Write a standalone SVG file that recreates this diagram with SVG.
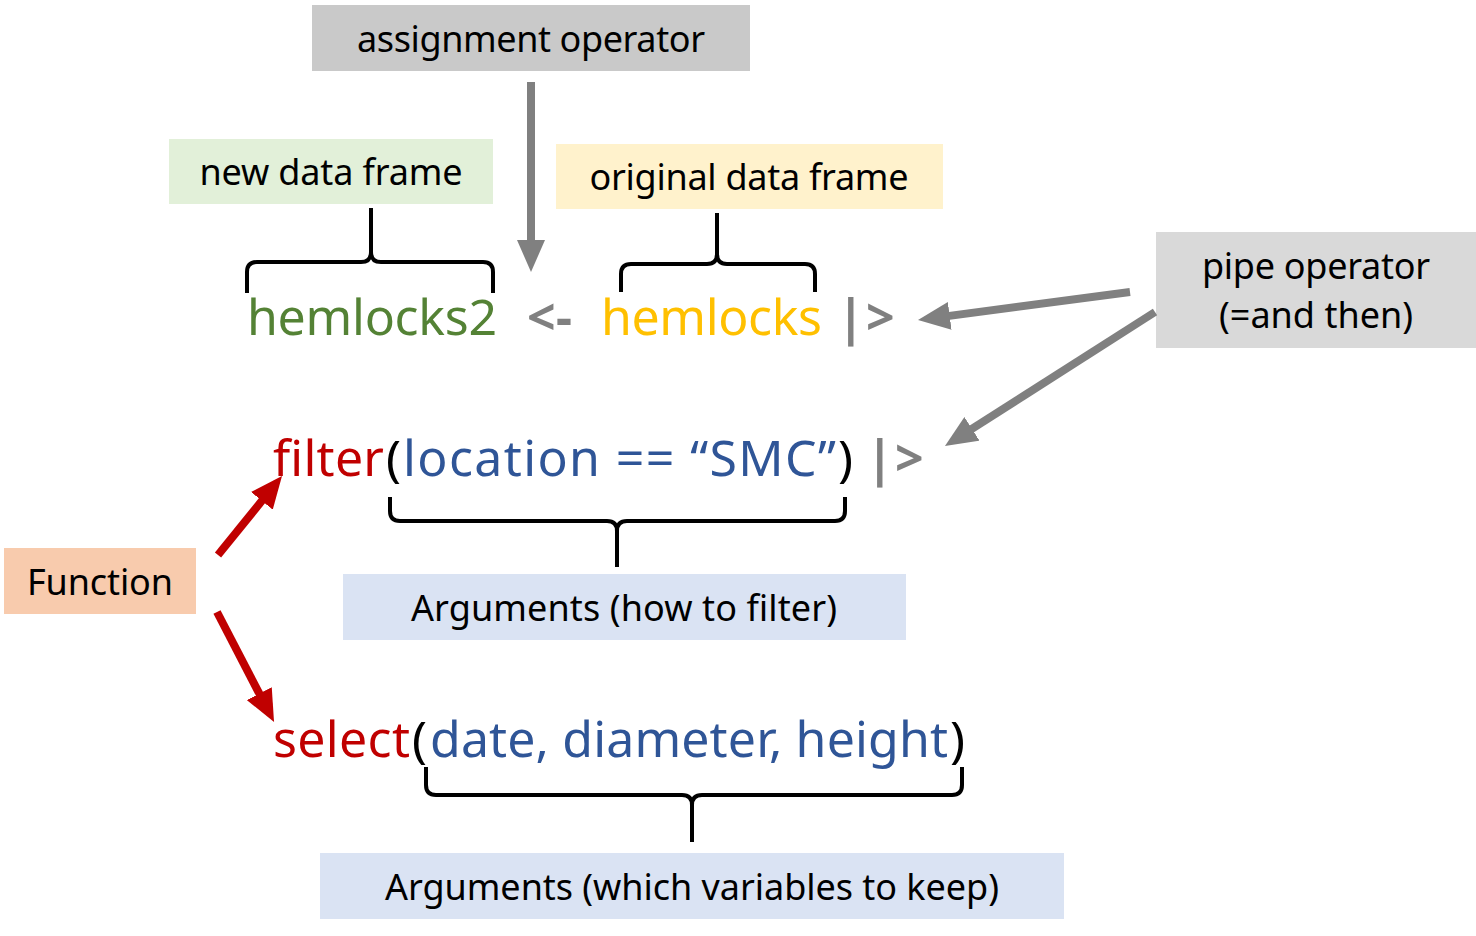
<svg xmlns="http://www.w3.org/2000/svg" width="1476" height="936" viewBox="0 0 1476 936">
<style>
text{font-family:"Noto Sans","Open Sans","Liberation Sans",sans-serif}
.lbl{font-size:36px;fill:#000;text-anchor:middle}
.code{font-size:50px}
.green{fill:#548235}
.yellow{fill:#ffc000}
.red{fill:#c00000}
.blue{fill:#2f5597}
.op{fill:#808080;font-weight:bold}
.par{fill:#000}
.brace{fill:none;stroke:#000;stroke-width:4;stroke-linejoin:round}
.garrow{stroke:#808080;stroke-width:8;fill:none;marker-end:url(#gh)}
.rarrow{stroke:#c00000;stroke-width:8;fill:none;marker-end:url(#rh)}
</style>
<defs>
<marker id="gh" markerWidth="4" markerHeight="3.5" refX="1" refY="1.75" orient="auto" markerUnits="strokeWidth"><path d="M0,0 L4,1.75 L0,3.5 z" fill="#808080"/></marker>
<marker id="rh" markerWidth="4" markerHeight="3.5" refX="1" refY="1.75" orient="auto" markerUnits="strokeWidth"><path d="M0,0 L4,1.75 L0,3.5 z" fill="#c00000"/></marker>
</defs>
<rect width="1476" height="936" fill="#fff"/>

<g id="assignment-operator"><rect x="312" y="5" width="438" height="66" fill="#c9c9c9"/><text class="lbl" x="531" y="52" textLength="348">assignment operator</text></g>
<g id="new-data-frame"><rect x="169" y="139" width="324" height="65" fill="#e2f0d9"/><text class="lbl" x="331" y="185" textLength="263">new data frame</text></g>
<g id="original-data-frame"><rect x="556" y="144" width="387" height="65" fill="#fff2cc"/><text class="lbl" x="749" y="190" textLength="319">original data frame</text></g>
<g id="pipe-operator"><rect x="1156" y="232" width="320" height="116" fill="#d9d9d9"/><text class="lbl" x="1316" y="279" textLength="228">pipe operator</text><text class="lbl" x="1316" y="328" textLength="194">(=and then)</text></g>
<g id="function"><rect x="4" y="548" width="192" height="66" fill="#f8cbad"/><text class="lbl" x="100" y="595" textLength="146">Function</text></g>
<g id="args-filter"><rect x="343" y="574" width="563" height="66" fill="#dae3f3"/><text class="lbl" x="624" y="621" textLength="426">Arguments (how to filter)</text></g>
<g id="args-select"><rect x="320" y="853" width="744" height="66" fill="#dae3f3"/><text class="lbl" x="692" y="900" textLength="614">Arguments (which variables to keep)</text></g>

<g id="code-line1">
<text class="code green" x="247" y="335" textLength="250">hemlocks2</text>
<text class="code op" x="527" y="335" textLength="45">&lt;-</text>
<text class="code yellow" x="601" y="335" textLength="221">hemlocks</text>
<text class="code op" x="837" y="335">|</text>
<text class="code op" x="866" y="335">&gt;</text>
</g>
<g id="code-line2">
<text class="code red" x="273" y="476" textLength="111">filter</text>
<text class="code par" x="386" y="476">(</text>
<text class="code blue" x="403" y="476" textLength="433">location == “SMC”</text>
<text class="code par" x="838" y="476">)</text>
<text class="code op" x="866" y="476">|</text>
<text class="code op" x="895" y="476">&gt;</text>
</g>
<g id="code-line3">
<text class="code red" x="273" y="757" textLength="137">select</text>
<text class="code par" x="412" y="757">(</text>
<text class="code blue" x="430" y="757" textLength="518">date, diameter, height</text>
<text class="code par" x="950" y="757">)</text>
</g>

<g id="braces">
<path class="brace" d="M247,293 L247,272 Q247,262 257,262 L361,262 Q371,262 371,252 L371,208 M371,252 Q371,262 381,262 L483,262 Q493,262 493,272 L493,293"/>
<path class="brace" d="M621,292 L621,274 Q621,264 631,264 L707,264 Q717,264 717,254 L717,213 M717,254 Q717,264 727,264 L805,264 Q815,264 815,274 L815,292"/>
<path class="brace" d="M390,497 L390,511 Q390,521 400,521 L607,521 Q617,521 617,531 L617,567 M617,531 Q617,521 627,521 L835,521 Q845,521 845,511 L845,497"/>
<path class="brace" d="M426,767 L426,785 Q426,795 436,795 L682,795 Q692,795 692,805 L692,842 M692,805 Q692,795 702,795 L952,795 Q962,795 962,785 L962,767"/>
</g>

<g id="connectors">
<line class="garrow" x1="531" y1="82" x2="531" y2="248"/>
<line class="garrow" x1="1130" y1="292" x2="941.8" y2="316.9"/>
<line class="garrow" x1="1155" y1="312" x2="965.2" y2="433.1"/>
<line class="rarrow" x1="218" y1="555" x2="266.9" y2="494.6"/>
<line class="rarrow" x1="217" y1="612" x2="263" y2="700.7"/>
</g>
</svg>
